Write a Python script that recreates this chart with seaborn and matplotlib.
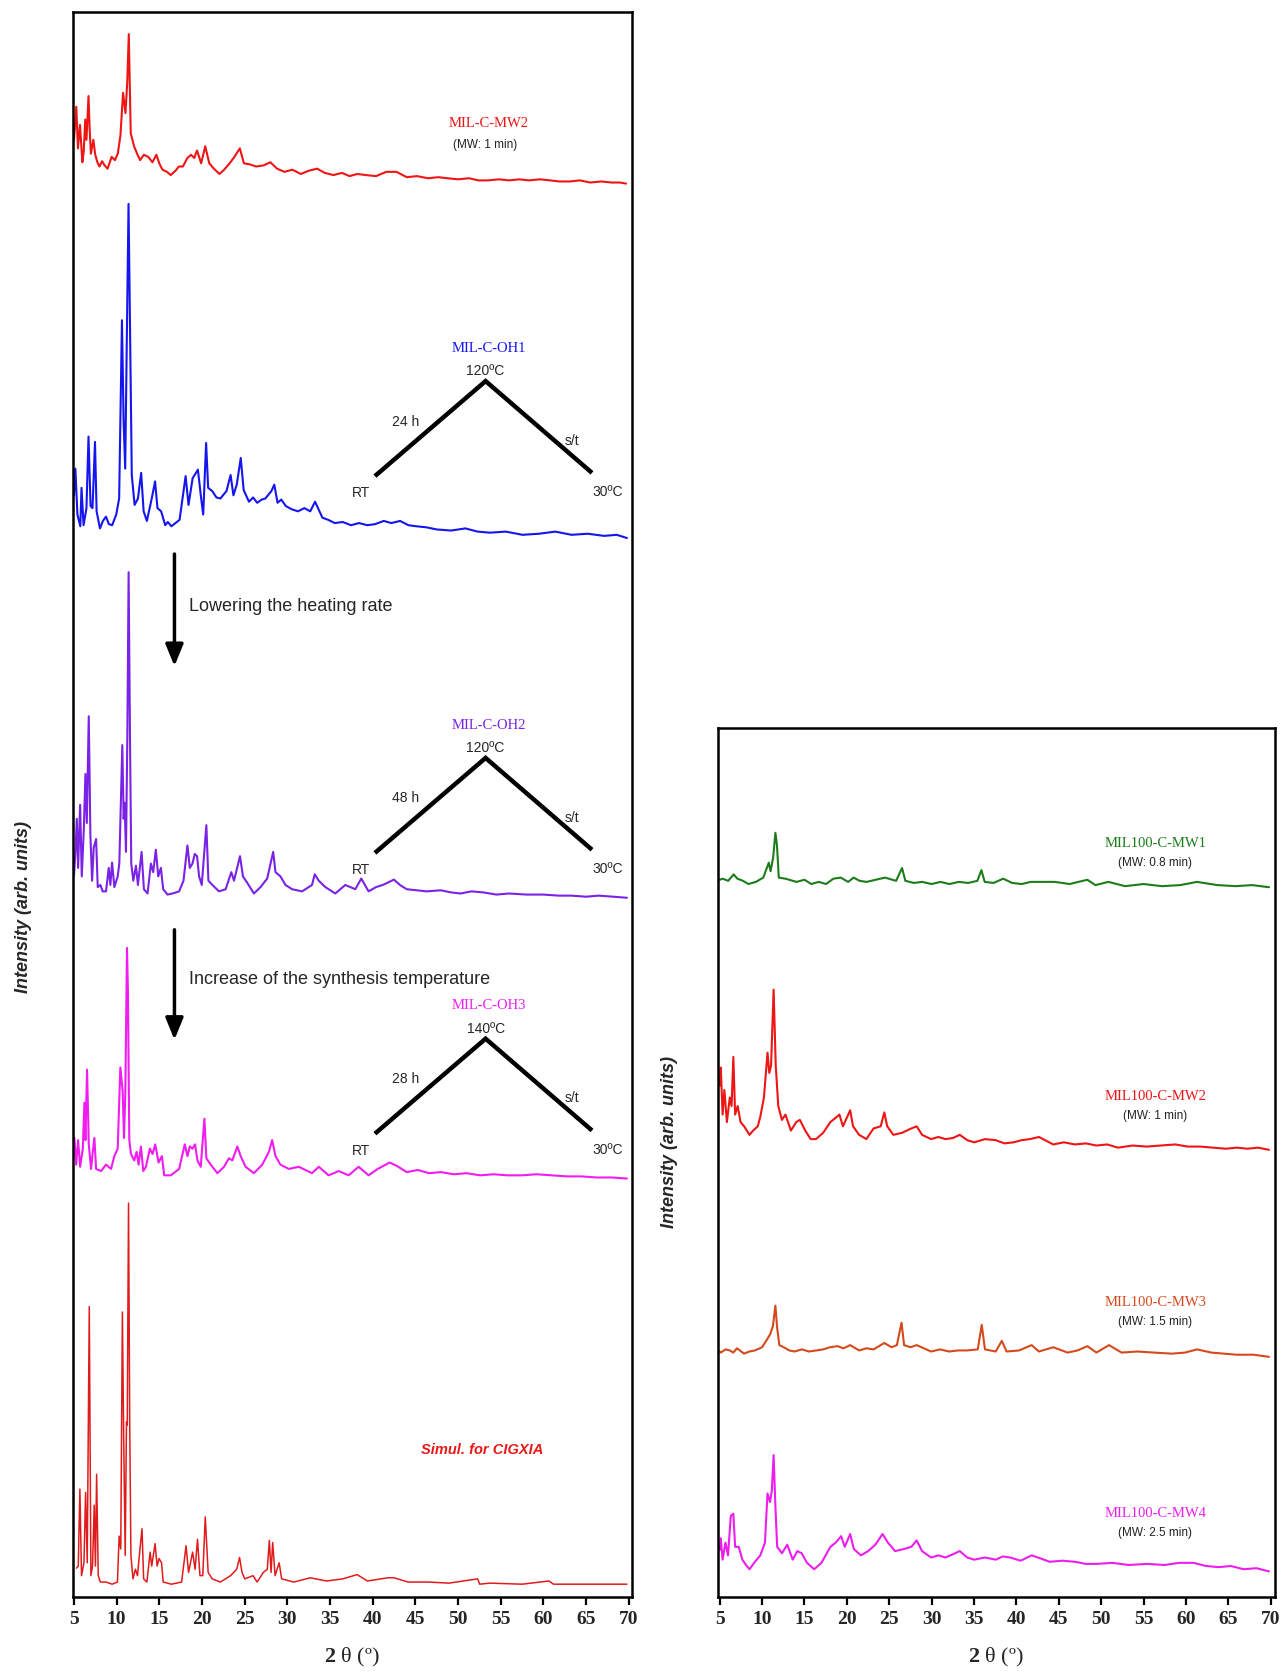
import numpy as np
import pandas as pd
import seaborn as sns
import matplotlib.pyplot as plt

sns.set_theme(style="ticks")
plt.rcParams["font.family"] = ["Liberation Sans", "DejaVu Sans"]
plt.rcParams["mathtext.fontset"] = "custom"
plt.rcParams["mathtext.rm"] = "Liberation Serif"
plt.rcParams["mathtext.bf"] = "Liberation Serif:bold"

# ---------------- XRD patterns (2θ in degrees, intensity in arb. units) ----------------
# Left panel
mw2_x = [5.0, 5.28, 5.47, 5.71, 5.99, 6.15, 6.33, 6.47, 6.71, 6.85, 6.99, 7.12, 7.28, 7.5, 7.75, 7.99,
         8.3, 8.6, 8.95, 9.2, 9.42, 9.8, 10.14, 10.45, 10.76, 11.04, 11.25, 11.43, 11.66, 12.05, 12.4,
         12.76, 13.2, 13.71, 14.2, 14.67, 15.0, 15.38, 15.9, 16.34, 16.9, 17.3, 17.77, 18.3, 18.72,
         19.1, 19.43, 19.91, 20.39, 20.86, 21.4, 22.06, 22.6, 23.25, 23.8, 24.44, 24.92, 25.6, 26.35,
         27.2, 28.02, 28.8, 29.68, 30.6, 31.59, 32.5, 33.5, 34.4, 35.4, 36.4, 37.3, 38.2, 39.2, 40.4,
         41.6, 42.8, 44.0, 45.2, 46.5, 47.7, 48.8, 50.0, 51.3, 52.4, 53.5, 54.8, 56.0, 57.2, 58.3, 59.6,
         60.8, 61.9, 63.1, 64.3, 65.5, 66.8, 68.0, 69.0, 69.7]
mw2_i = [40, 72, 33, 55, 20, 30, 60, 41, 82, 50, 28, 34, 41, 27, 20, 16,
         21, 17, 14, 20, 25, 22, 28, 45, 85, 66, 95, 140, 47, 35, 28,
         22, 27, 25, 20, 27, 19, 13, 11, 8, 12, 16, 16, 24, 27,
         24, 31, 19, 35, 19, 14, 9, 13, 19, 25, 33, 19, 18, 16,
         17, 20, 14, 11, 13, 9, 12, 14, 10, 8, 10, 7, 9, 8, 7,
         11, 11, 6, 7, 5, 6, 5, 4, 5, 3, 3, 4, 3, 4, 3, 4,
         3, 2, 2, 3, 1, 2, 1, 1, 0]

oh1_x = [5.0, 5.17, 5.41, 5.75, 5.89, 6.13, 6.47, 6.71, 6.95, 7.18, 7.47, 7.66, 8.05, 8.4, 8.76, 9.1,
         9.48, 9.96, 10.3, 10.63, 10.82, 11.01, 11.2, 11.4, 11.59, 11.78, 12.11, 12.5, 12.88, 13.17,
         13.55, 14.12, 14.51, 14.79, 15.22, 15.7, 16.0, 16.42, 16.9, 17.38, 18.09, 18.43, 18.91, 19.53,
         19.91, 20.15, 20.49, 20.73, 21.2, 21.7, 22.16, 22.88, 23.36, 23.69, 24.08, 24.55, 24.89, 25.51,
         26.0, 26.47, 27.0, 27.43, 28.14, 28.48, 28.86, 29.3, 29.82, 30.5, 31.25, 32.0, 32.69, 33.26,
         34.12, 34.8, 35.56, 36.5, 37.47, 38.4, 39.39, 40.3, 41.3, 42.2, 43.22, 44.2, 45.13, 46.3,
         47.52, 49.2, 50.87, 52.3, 53.74, 55.6, 57.57, 59.5, 61.4, 63.31, 65.2, 67.14, 68.6, 69.8]
oh1_i = [40, 65, 22, 11, 47, 12, 28, 95, 30, 28, 90, 25, 9, 16, 20, 13,
         12, 22, 37, 204, 110, 65, 187, 313, 187, 59, 31, 37, 61, 25,
         16, 37, 53, 28, 25, 12, 15, 11, 14, 17, 58, 31, 56, 64,
         37, 22, 89, 47, 44, 38, 37, 44, 59, 40, 50, 75, 45, 34,
         38, 33, 36, 37, 44, 50, 33, 36, 30, 27, 25, 28, 25, 34,
         19, 17, 14, 15, 12, 14, 12, 13, 16, 14, 16, 12, 11, 10,
         8, 7, 9, 6, 5, 6, 3, 4, 6, 3, 4, 2, 3, 0]

oh2_x = [5.0, 5.18, 5.34, 5.49, 5.73, 5.92, 6.16, 6.35, 6.51, 6.74, 6.93, 7.13, 7.32, 7.6, 7.79, 8.1,
         8.37, 8.76, 9.08, 9.27, 9.47, 9.74, 10.13, 10.32, 10.67, 10.83, 10.94, 11.1, 11.26, 11.41,
         11.57, 11.72, 11.96, 12.27, 12.5, 12.93, 13.2, 13.63, 14.02, 14.29, 14.6, 14.88, 15.19, 15.46,
         15.97, 16.55, 17.33, 17.84, 18.3, 18.58, 18.89, 19.16, 19.43, 19.67, 19.98, 20.52, 20.76, 21.23,
         22.0, 22.78, 23.44, 23.76, 24.46, 24.81, 25.31, 26.09, 26.87, 27.65, 28.04, 28.35, 28.62, 29.2,
         29.79, 30.57, 31.74, 32.9, 33.22, 33.69, 34.46, 35.63, 36.8, 37.97, 38.67, 39.53, 40.4, 41.2,
         42.5, 43.2, 44.0, 45.2, 46.3, 48.0, 49.2, 50.3, 51.6, 53.0, 54.5, 56.0, 58.0, 60.0, 61.8,
         63.3, 65.0, 66.5, 68.2, 69.8]
oh2_i = [20, 43, 74, 28, 87, 20, 64, 116, 70, 170, 59, 16, 47, 55, 10, 12,
         6, 6, 28, 12, 33, 10, 20, 32, 143, 74, 89, 43, 151, 305,
         151, 32, 16, 30, 12, 43, 8, 4, 32, 24, 45, 20, 28, 8,
         3, 4, 6, 16, 49, 28, 32, 41, 39, 20, 12, 68, 16, 12,
         6, 8, 24, 16, 39, 20, 14, 4, 10, 18, 32, 43, 24, 20,
         12, 8, 6, 12, 22, 16, 10, 4, 12, 8, 18, 6, 10, 12,
         17, 12, 8, 7, 6, 7, 5, 4, 6, 5, 3, 4, 3, 3, 2,
         2, 1, 2, 1, 0]

oh3_x = [5.06, 5.26, 5.49, 5.73, 6.04, 6.23, 6.35, 6.54, 6.74, 7.01, 7.21, 7.4, 7.6, 8.18, 8.76, 9.35,
         9.74, 10.13, 10.44, 10.71, 10.87, 11.02, 11.22, 11.33, 11.49, 11.68, 12.07, 12.35, 12.58, 12.85,
         13.13, 13.44, 13.9, 14.22, 14.53, 14.92, 15.31, 15.58, 16.36, 17.33, 17.99, 18.3, 18.58, 18.89,
         19.2, 19.47, 19.86, 20.29, 20.52, 21.03, 21.81, 22.59, 23.17, 23.56, 24.15, 24.54, 25.12, 26.09,
         27.07, 27.85, 28.23, 28.62, 29.2, 30.18, 31.35, 32.9, 33.69, 34.85, 36.02, 37.19, 38.36, 39.53,
         40.6, 42.0, 42.8, 44.0, 45.3, 46.6, 48.0, 49.5, 51.0, 52.6, 54.2, 55.8, 57.5, 59.2, 61.0,
         62.8, 64.5, 66.2, 68.0, 69.8]
oh3_i = [38, 13, 36, 11, 28, 71, 36, 102, 32, 9, 25, 38, 9, 7, 13, 9,
         21, 28, 104, 82, 38, 79, 216, 175, 36, 23, 17, 25, 13, 30,
         7, 11, 28, 23, 32, 15, 21, 3, 3, 9, 32, 21, 30, 28,
         32, 17, 11, 56, 19, 13, 5, 11, 19, 17, 30, 21, 11, 5,
         13, 25, 36, 21, 13, 9, 11, 5, 11, 3, 7, 3, 11, 3,
         9, 15, 12, 6, 8, 5, 6, 4, 5, 3, 4, 3, 3, 4, 3,
         2, 2, 1, 1, 0]

sim_x = [5.3, 5.51, 5.7, 5.89, 6.18, 6.37, 6.56, 6.8, 6.99, 7.18, 7.38, 7.52, 7.66, 7.85, 8.09, 8.76,
         9.48, 10.1, 10.3, 10.49, 10.68, 10.82, 11.01, 11.16, 11.25, 11.4, 11.54, 11.68, 11.92, 12.21,
         12.45, 12.74, 12.98, 13.17, 13.55, 13.93, 14.12, 14.51, 14.75, 14.98, 15.27, 15.46, 16.42, 17.62,
         18.14, 18.43, 18.91, 19.2, 19.48, 19.77, 20.1, 20.39, 20.73, 21.2, 22.16, 23.36, 24.08, 24.41,
         24.7, 25.03, 25.99, 26.47, 27.19, 27.66, 27.9, 28.1, 28.29, 28.57, 29.05, 29.34, 30.77, 32.69,
         34.6, 36.52, 38.19, 39.39, 41.78, 42.5, 44.17, 46.56, 48.96, 52.31, 52.55, 53.74, 57.5, 60.68,
         61.2, 65.0, 69.8]
sim_i = [15, 17, 89, 8, 20, 86, 20, 260, 8, 17, 74, 17, 103, 8, 2, 2,
         0, 2, 45, 33, 255, 146, 27, 152, 149, 357, 149, 27, 5, 14,
         8, 33, 52, 5, 2, 30, 17, 38, 17, 24, 20, 2, 0, 2,
         36, 11, 30, 14, 42, 8, 8, 63, 11, 5, 2, 8, 14, 25,
         11, 5, 8, 2, 11, 14, 41, 11, 39, 8, 20, 5, 2, 6,
         3, 5, 9, 3, 6, 6, 2, 2, 1, 5, 0, 1, 0, 3,
         0, 0, 0]

# Right panel
r_mw1_x = [5.0, 5.35, 6.0, 6.65, 7.09, 7.74, 8.4, 9.27, 10.14, 10.79, 11.0, 11.31, 11.57, 11.75, 11.97,
           12.75, 14.06, 15.0, 15.8, 16.7, 17.54, 18.41, 19.28, 20.15, 20.8, 21.5, 22.33, 23.4, 24.51,
           25.81, 26.51, 26.9, 27.9, 28.86, 30.0, 31.04, 32.1, 33.21, 34.3, 35.39, 35.87, 36.26, 37.3,
           38.44, 39.5, 40.62, 41.7, 42.79, 44.53, 46.28, 48.37, 49.32, 50.85, 52.81, 55.0, 57.16, 59.34,
           61.3, 63.69, 65.87, 67.8, 69.8]
r_mw1_i = [7, 8, 6, 12, 8, 6, 3, 5, 9, 23, 15, 28, 51, 40, 9,
           8, 5, 7, 3, 5, 3, 8, 9, 5, 9, 6, 5, 7, 9,
           6, 18, 6, 4, 5, 3, 5, 3, 5, 4, 6, 16, 5, 4,
           8, 4, 3, 5, 5, 5, 3, 7, 2, 5, 1, 3, 1, 2,
           5, 2, 1, 2, 0]

r_mw2_x = [5.0, 5.13, 5.34, 5.55, 5.85, 6.19, 6.4, 6.61, 6.82, 7.12, 7.46, 7.88, 8.52, 8.94, 9.49, 9.79,
           10.22, 10.64, 10.85, 11.06, 11.36, 11.61, 11.91, 12.34, 12.76, 13.4, 14.03, 14.46, 15.09, 15.73,
           16.36, 17.21, 18.06, 18.69, 19.12, 19.54, 20.39, 20.73, 21.45, 22.3, 23.15, 23.99, 24.42, 24.76,
           25.48, 26.54, 27.6, 28.24, 28.87, 29.93, 30.8, 31.63, 32.5, 33.32, 34.2, 35.02, 36.3, 37.56,
           38.6, 39.68, 40.6, 41.59, 42.65, 44.35, 45.6, 46.89, 48.2, 49.44, 50.7, 51.98, 53.7, 55.37,
           57.0, 58.76, 60.2, 61.73, 63.2, 64.7, 66.0, 67.24, 68.5, 69.79]
r_mw2_i = [60, 77, 33, 56, 26, 49, 41, 87, 33, 41, 26, 22, 14, 18, 22, 31,
           49, 91, 72, 79, 150, 79, 41, 28, 33, 18, 26, 28, 18, 10,
           10, 16, 26, 30, 33, 22, 37, 22, 14, 10, 20, 22, 35, 22,
           14, 16, 20, 22, 14, 10, 12, 10, 11, 14, 9, 7, 10, 9,
           6, 7, 9, 10, 12, 5, 7, 5, 6, 4, 5, 2, 4, 3,
           4, 5, 3, 3, 2, 1, 2, 1, 2, 0]

r_mw3_x = [5.0, 5.13, 5.7, 6.19, 6.6, 7.04, 7.88, 8.5, 9.16, 10.0, 10.64, 10.94, 11.28, 11.57, 11.78,
           12.04, 12.55, 13.2, 13.82, 14.7, 15.52, 16.4, 17.21, 18.0, 18.91, 19.6, 20.39, 21.45, 22.3,
           23.15, 24.42, 25.27, 25.9, 26.45, 26.75, 27.5, 28.24, 29.93, 31.0, 32.05, 33.1, 34.17, 35.44,
           35.91, 36.29, 37.56, 38.28, 38.84, 40.3, 41.8, 42.65, 44.35, 46.04, 47.2, 48.38, 49.44, 50.92,
           52.4, 54.3, 56.22, 58.34, 59.9, 61.31, 63.0, 64.5, 65.97, 68.0, 69.79]
r_mw3_i = [5, 4, 7, 6, 4, 8, 3, 5, 6, 9, 17, 21, 29, 48, 27,
           11, 9, 6, 5, 7, 5, 6, 7, 9, 10, 8, 11, 6, 8,
           7, 13, 9, 11, 32, 11, 9, 11, 5, 7, 5, 6, 6, 7,
           30, 7, 5, 15, 5, 6, 11, 5, 9, 4, 6, 10, 4, 11,
           4, 5, 4, 3, 4, 7, 4, 3, 2, 2, 0]

r_mw4_x = [5.0, 5.13, 5.34, 5.68, 5.98, 6.31, 6.61, 6.82, 7.25, 7.67, 8.1, 8.52, 9.16, 9.79, 10.34,
           10.64, 10.94, 11.15, 11.36, 11.57, 11.78, 12.34, 12.97, 13.61, 14.16, 14.67, 15.3, 16.15, 17.0,
           18.06, 18.69, 19.33, 19.75, 20.39, 20.82, 21.66, 22.51, 23.36, 24.21, 24.84, 25.69, 26.75, 27.6,
           28.24, 28.87, 29.93, 30.8, 31.63, 32.5, 33.32, 34.2, 35.02, 36.3, 37.56, 38.4, 39.26, 40.5,
           41.8, 42.9, 43.92, 45.4, 46.89, 48.2, 49.44, 51.3, 53.25, 55.4, 57.49, 59.2, 60.88, 62.4,
           63.85, 65.3, 66.82, 68.3, 69.79]
r_mw4_i = [20, 31, 11, 27, 15, 52, 54, 23, 23, 11, 6, 2, 9, 15, 27,
           73, 65, 76, 109, 61, 23, 17, 25, 11, 19, 17, 8, 2, 8,
           23, 27, 33, 23, 35, 21, 15, 19, 25, 35, 27, 19, 21, 23,
           29, 19, 13, 15, 13, 16, 19, 13, 11, 13, 11, 14, 13, 10,
           15, 12, 9, 10, 9, 7, 7, 8, 6, 7, 6, 8, 8, 5,
           4, 5, 2, 3, 0]

left_samples = ["MIL-C-MW2", "MIL-C-OH1", "MIL-C-OH2", "MIL-C-OH3", "Simul. for CIGXIA"]
left_x = [mw2_x, oh1_x, oh2_x, oh3_x, sim_x]
left_i = [mw2_i, oh1_i, oh2_i, oh3_i, sim_i]
left_shift = [1324, 992, 655, 392, 12]
left_colors = ["#ee1515", "#1515ee", "#7a22e6", "#f01cf0", "#e01b1b"]
left_widths = [1.5, 1.5, 1.5, 1.5, 1.1]

right_samples = ["MIL100-C-MW1", "MIL100-C-MW2", "MIL100-C-MW3", "MIL100-C-MW4"]
right_x = [r_mw1_x, r_mw2_x, r_mw3_x, r_mw4_x]
right_i = [r_mw1_i, r_mw2_i, r_mw3_i, r_mw4_i]
right_shift = [665, 419, 225, 24]
right_colors = ["#1c7c1c", "#ee1515", "#d44a1c", "#ec1eec"]
right_notes = ["(MW: 0.8 min)", "(MW: 1 min)", "(MW: 1.5 min)", "(MW: 2.5 min)"]

xticks = [5, 10, 15, 20, 25, 30, 35, 40, 45, 50, 55, 60, 65, 70]


def stacked_frame(samples, xs, ints, shifts):
    rows = []
    for name, x, i, s in zip(samples, xs, ints, shifts):
        rows.append(pd.DataFrame({"sample": name, "two_theta": x,
                                  "signal": np.asarray(i, dtype=float) + s}))
    return pd.concat(rows, ignore_index=True)


df_left = stacked_frame(left_samples, left_x, left_i, left_shift)
df_right = stacked_frame(right_samples, right_x, right_i, right_shift)

fig = plt.figure(figsize=(12.81, 16.74), dpi=100)
ax1 = fig.add_axes([0.0567, 0.0454, 0.4367, 0.947])
ax2 = fig.add_axes([0.5605, 0.0454, 0.4348, 0.519])

sns.lineplot(data=df_left, x="two_theta", y="signal", hue="sample", hue_order=left_samples,
             palette=left_colors, size="sample", size_order=left_samples,
             sizes=dict(zip(left_samples, left_widths)),
             estimator=None, sort=False, legend=False, ax=ax1)
sns.lineplot(data=df_right, x="two_theta", y="signal", hue="sample", hue_order=right_samples,
             palette=right_colors, estimator=None, sort=False, lw=1.5, legend=False, ax=ax2)

ax1.set_xlim(4.85, 70.4)
ax1.set_ylim(0, 1485)
ax2.set_xlim(4.8, 70.5)
ax2.set_ylim(0, 814)

for ax in (ax1, ax2):
    ax.set_xticks(xticks)
    ax.set_xticklabels([str(t) for t in xticks], fontfamily="Liberation Serif",
                       fontweight="bold", fontsize=14)
    ax.set_yticks([])
    ax.set_xlabel("")
    ax.set_ylabel("")
    ax.tick_params(axis="x", direction="out", length=6, width=1.6, pad=3, color="black")
    for sp in ax.spines.values():
        sp.set_visible(True)
        sp.set_linewidth(1.8)
        sp.set_color("black")

# axis titles
xlab = r"$\mathbf{2}$ θ (º)"
fig.text(0.275, 0.0096, xlab, ha="center", va="center", fontsize=16, fontfamily="Liberation Serif")
fig.text(0.7775, 0.0096, xlab, ha="center", va="center", fontsize=16, fontfamily="Liberation Serif")
fig.text(0.0183, 0.458, "Intensity (arb. units)", rotation=90, ha="center", va="center",
         fontsize=13, fontweight="bold", fontstyle="italic")
fig.text(0.523, 0.318, "Intensity (arb. units)", rotation=90, ha="center", va="center",
         fontsize=13, fontweight="bold", fontstyle="italic")

serif = "Liberation Serif"

# left panel sample names
ax1.text(53.6, 1381, "MIL-C-MW2", color=left_colors[0], ha="center", va="center", fontsize=10.5, fontfamily=serif)
ax1.text(53.2, 1361, "(MW: 1 min)", color="#222222", ha="center", va="center", fontsize=8.5)
ax1.text(53.6, 1170, "MIL-C-OH1", color=left_colors[1], ha="center", va="center", fontsize=10.5, fontfamily=serif)
ax1.text(53.6, 817, "MIL-C-OH2", color=left_colors[2], ha="center", va="center", fontsize=10.5, fontfamily=serif)
ax1.text(53.6, 555, "MIL-C-OH3", color=left_colors[3], ha="center", va="center", fontsize=10.5, fontfamily=serif)
ax1.text(52.85, 139, "Simul. for CIGXIA", color="#e81818", ha="center", va="center", fontsize=10.5,
         fontweight="bold", fontstyle="italic")

# heating programmes
programmes = [("120ºC", "24 h", 1050), ("120ºC", "48 h", 697), ("140ºC", "28 h", 434)]
for top, dur, base in programmes:
    ax1.plot([40.27, 53.24, 65.71], [base, base + 89, base + 3], color="black", lw=3.2,
             solid_capstyle="butt", solid_joinstyle="miter")
    ax1.text(53.24, base + 99, top, ha="center", va="center", fontsize=10)
    ax1.text(43.84, base + 52, dur, ha="center", va="center", fontsize=10)
    ax1.text(63.41, base + 34, "s/t", ha="center", va="center", fontsize=10)
    ax1.text(38.6, base - 15, "RT", ha="center", va="center", fontsize=10)
    ax1.text(67.53, base - 14, "30ºC", ha="center", va="center", fontsize=10)

# arrows between patterns
for y0, y1, label, ty in [(977, 872, "Lowering the heating rate", 929),
                          (625, 522, "Increase of the synthesis temperature", 579)]:
    ax1.annotate("", xy=(16.78, y1), xytext=(16.78, y0),
                 arrowprops=dict(arrowstyle="-|>,head_length=1.1,head_width=0.45",
                                 color="black", lw=2.5, shrinkA=0, shrinkB=0))
    ax1.text(18.53, ty, label, ha="left", va="center", fontsize=13)

# right panel sample names
for name, note, col, ty in zip(right_samples, right_notes, right_colors, [707, 470, 277, 79]):
    ax2.text(56.4, ty, name, color=col, ha="center", va="center", fontsize=10.5, fontfamily=serif)
    ax2.text(56.4, ty - 18, note, color="#222222", ha="center", va="center", fontsize=8.5)

fig.savefig("out.png", dpi=100)
